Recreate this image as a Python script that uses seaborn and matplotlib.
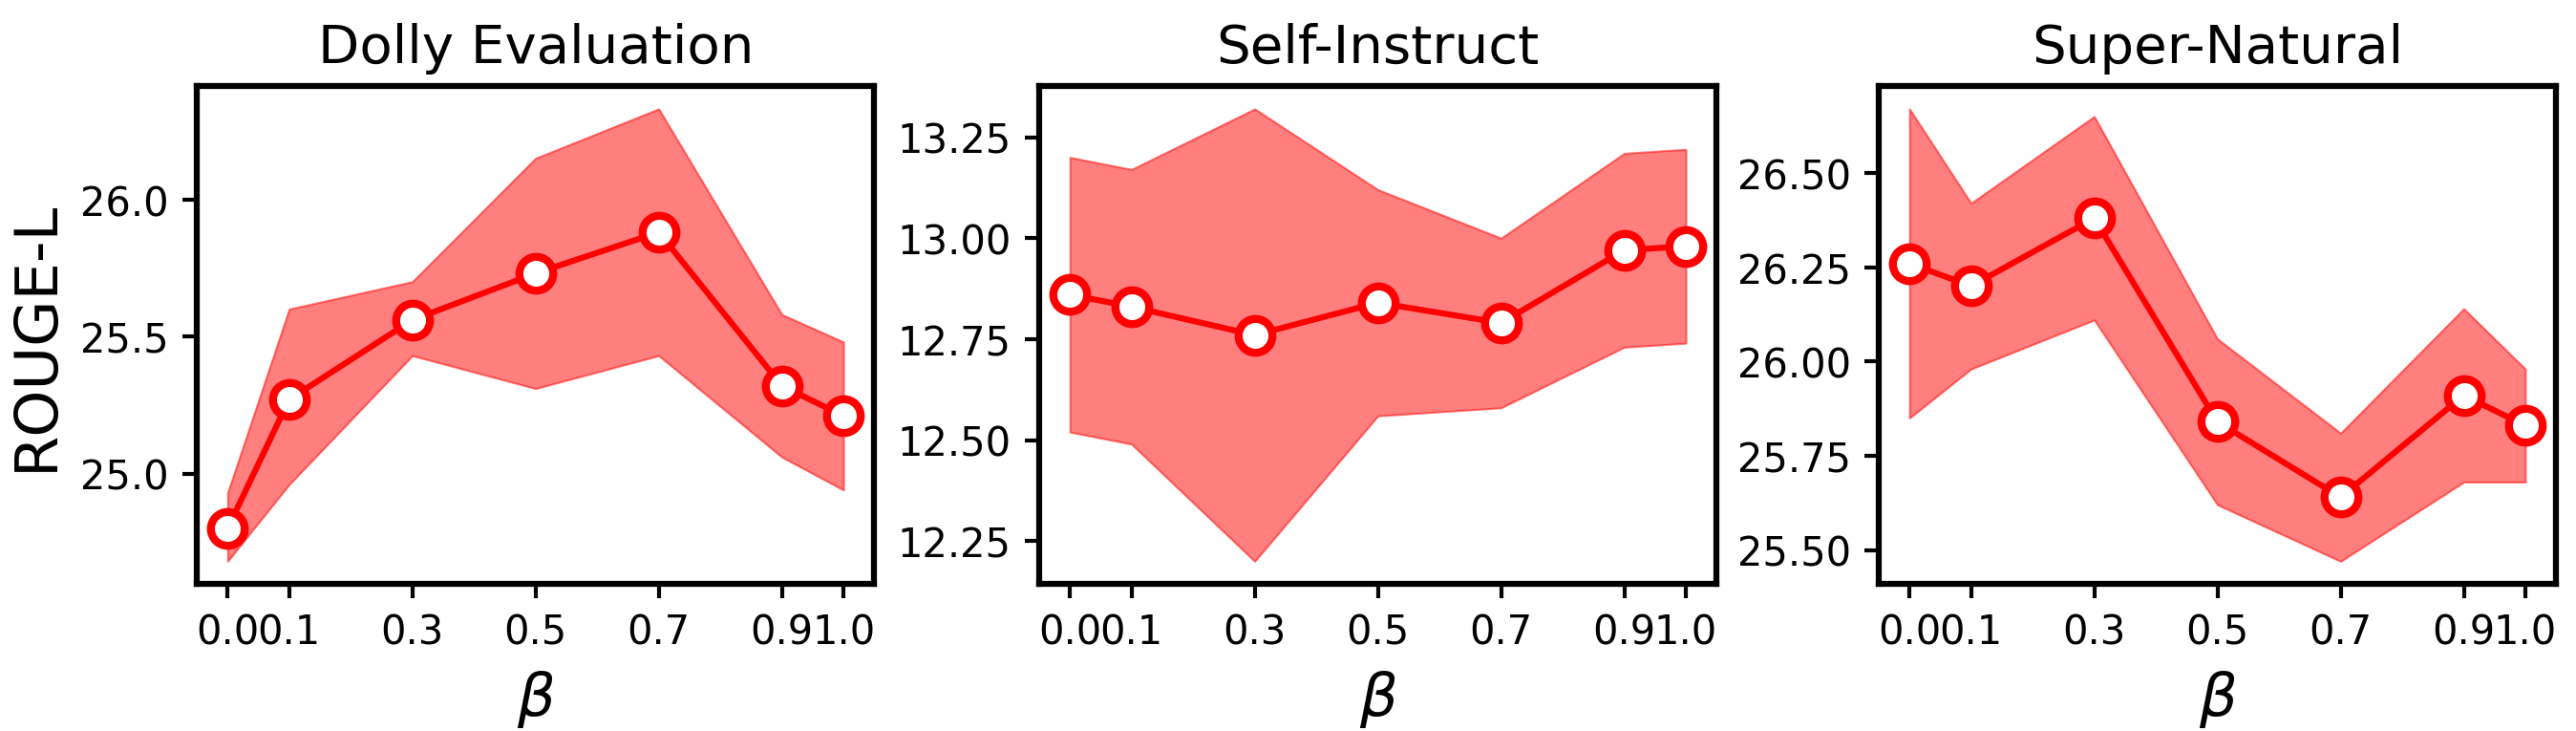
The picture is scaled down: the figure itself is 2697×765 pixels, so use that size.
import matplotlib
matplotlib.use("Agg")
import matplotlib.pyplot as plt
import seaborn as sns
import pandas as pd

betas = [0.0, 0.1, 0.3, 0.5, 0.7, 0.9, 1.0]
beta_labels = ["0.0", "0.1", "0.3", "0.5", "0.7", "0.9", "1.0"]

titles = ["Dolly Evaluation", "Self-Instruct", "Super-Natural"]

dolly_mean = [24.80, 25.27, 25.56, 25.73, 25.88, 25.32, 25.21]
dolly_upper = [24.93, 25.60, 25.70, 26.15, 26.33, 25.58, 25.48]
dolly_lower = [24.68, 24.96, 25.43, 25.31, 25.43, 25.06, 24.94]

self_mean = [12.86, 12.83, 12.76, 12.84, 12.79, 12.97, 12.98]
self_upper = [13.20, 13.17, 13.32, 13.12, 13.00, 13.21, 13.22]
self_lower = [12.52, 12.49, 12.20, 12.56, 12.58, 12.73, 12.74]

sn_mean = [26.26, 26.20, 26.38, 25.84, 25.64, 25.91, 25.83]
sn_upper = [26.67, 26.42, 26.65, 26.06, 25.81, 26.14, 25.98]
sn_lower = [25.85, 25.98, 26.11, 25.62, 25.47, 25.68, 25.68]

means = [dolly_mean, self_mean, sn_mean]
uppers = [dolly_upper, self_upper, sn_upper]
lowers = [dolly_lower, self_lower, sn_lower]

sns.set_style("white", {"text.color": "black", "axes.labelcolor": "black",
                        "xtick.color": "black", "ytick.color": "black",
                        "axes.edgecolor": "black"})
plt.rcParams['font.family'] = ['DejaVu Sans']

fig = plt.figure(figsize=(8.99, 2.553), dpi=300)
lefts = [0.0764, 0.4034, 0.7293]

for i in range(3):
    ax = fig.add_axes([lefts[i], 0.201, 0.263, 0.680])
    df = pd.DataFrame({"beta": betas, "score": means[i]})
    ax.fill_between(betas, lowers[i], uppers[i], color="red", alpha=0.5, linewidth=0.5)
    sns.lineplot(data=df, x="beta", y="score", ax=ax, color="red", linewidth=1.5,
                 marker="o", markersize=8.5, markerfacecolor="white",
                 markeredgecolor="red", markeredgewidth=2)
    ax.set_xticks(betas)
    ax.set_xticklabels(beta_labels)
    ax.tick_params(axis="both", labelsize=10, length=3.5, width=1, left=True, bottom=True,
                   colors="black")
    ax.set_title(titles[i], fontsize=13.5, color="black")
    ax.set_xlabel(r"$\beta$", fontsize=15, color="black")
    if i == 0:
        ax.set_ylabel("ROUGE-L", fontsize=15, color="black")
    else:
        ax.set_ylabel("")
    if i == 0:
        ax.yaxis.set_major_formatter(matplotlib.ticker.FormatStrFormatter("%.1f"))
    else:
        ax.yaxis.set_major_formatter(matplotlib.ticker.FormatStrFormatter("%.2f"))
    for s in ax.spines.values():
        s.set_linewidth(1.5)
        s.set_color("black")

fig.savefig("out.png", dpi=300)
